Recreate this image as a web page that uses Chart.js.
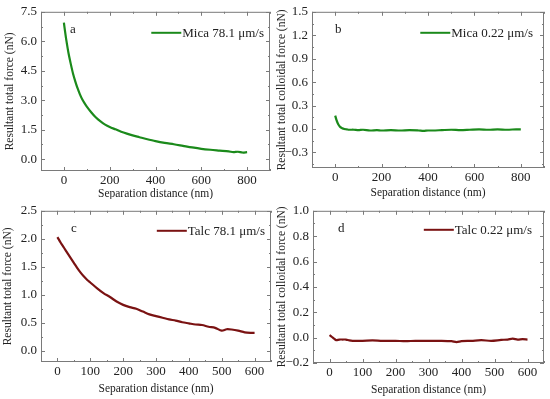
<!DOCTYPE html>
<html>
<head>
<meta charset="utf-8">
<script src="https://cdn.jsdelivr.net/npm/chart.js@4.4.1/dist/chart.umd.min.js"></script>
<style>
  body { margin: 0; background: #fff; }
  #wrap { position: relative; width: 550px; height: 399px; }
  .panel { position: absolute; }
</style>
</head>
<body>
<div id="wrap">
  <div class="panel" style="left:0;top:0;width:275px;height:199px"><canvas id="chartA"></canvas></div>
  <div class="panel" style="left:275px;top:0;width:275px;height:199px"><canvas id="chartB"></canvas></div>
  <div class="panel" style="left:0;top:199px;width:275px;height:200px"><canvas id="chartC"></canvas></div>
  <div class="panel" style="left:275px;top:199px;width:275px;height:200px"><canvas id="chartD"></canvas></div>
</div>
<script>
// panel a - mica, high speed
let micaFastX = [0, 5, 10, 20, 30, 40, 50, 60, 70, 80, 90, 100, 120, 140, 160, 180, 200, 225, 250, 275, 300, 330, 360, 400, 440, 480, 520, 560, 600, 640, 680, 720, 740, 760, 780, 800];
let micaFastY = [6.95, 6.5, 6.1, 5.4, 4.85, 4.35, 3.95, 3.6, 3.3, 3.05, 2.85, 2.68, 2.38, 2.12, 1.92, 1.76, 1.64, 1.52, 1.4, 1.3, 1.21, 1.12, 1.03, 0.92, 0.83, 0.76, 0.68, 0.6, 0.53, 0.48, 0.44, 0.4, 0.36, 0.38, 0.34, 0.36];

// panel b - mica, low speed
let micaSlowX = [0, 5, 10, 15, 20, 30, 40, 50, 60, 80, 100, 120, 150, 180, 200, 240, 280, 320, 360, 380, 400, 420, 460, 500, 540, 580, 620, 660, 700, 740, 780, 800];
let micaSlowY = [0.17, 0.12, 0.08, 0.05, 0.03, 0.01, 0.0, -0.005, -0.01, -0.01, -0.015, -0.01, -0.02, -0.015, -0.02, -0.015, -0.02, -0.015, -0.02, -0.025, -0.02, -0.02, -0.015, -0.01, -0.015, -0.01, -0.005, -0.01, -0.005, -0.01, -0.005, -0.005];

// panel c - talc, high speed
let talcFastX = [0, 10, 20, 30, 40, 50, 60, 70, 80, 90, 100, 120, 140, 160, 180, 200, 220, 240, 260, 280, 300, 320, 340, 360, 380, 400, 420, 440, 460, 480, 500, 515, 530, 550, 570, 590, 600];
let talcFastY = [2.03, 1.93, 1.84, 1.75, 1.66, 1.57, 1.48, 1.4, 1.33, 1.27, 1.22, 1.12, 1.03, 0.96, 0.88, 0.82, 0.78, 0.75, 0.7, 0.65, 0.62, 0.59, 0.56, 0.54, 0.51, 0.49, 0.47, 0.46, 0.43, 0.41, 0.36, 0.385, 0.38, 0.36, 0.33, 0.32, 0.32];

// panel d - talc, low speed
let talcSlowX = [0, 5, 10, 15, 20, 30, 40, 50, 60, 70, 100, 130, 160, 200, 230, 260, 300, 340, 370, 385, 400, 430, 460, 490, 520, 540, 555, 570, 585, 600];
let talcSlowY = [0.02, 0.01, 0.0, -0.01, -0.02, -0.015, -0.015, -0.015, -0.022, -0.025, -0.025, -0.022, -0.025, -0.025, -0.028, -0.025, -0.025, -0.025, -0.028, -0.035, -0.028, -0.025, -0.02, -0.025, -0.018, -0.015, -0.008, -0.015, -0.012, -0.015];

// tick labels
let xTicks800 = [0, 200, 400, 600, 800];
let xTicks600 = [0, 100, 200, 300, 400, 500, 600];
let yTicksA = [0, 1.5, 3, 4.5, 6, 7.5];
let yTicksB = [-0.3, 0, 0.3, 0.6, 0.9, 1.2, 1.5];
let yTicksC = [0, 0.5, 1, 1.5, 2, 2.5];
let yTicksD = [-0.2, 0, 0.2, 0.4, 0.6, 0.8, 1];

const GREEN = "#1b8a1b";
const DARKRED = "#7a1212";
const SERIF = "'Liberation Serif', 'Times New Roman', serif";

function fmt(v, dec) {
    let s = Math.abs(v).toFixed(dec);
    return v < -1e-9 ? "\u2212" + s : s;
}

// frame, inward ticks (major + minor), panel letter and legend
const framePlugin = {
    id: "frame",
    afterDatasetsDraw(chart, args, opts) {
        const ctx = chart.ctx;
        const a = chart.chartArea;
        const xs = chart.scales.x, ys = chart.scales.y;
        ctx.save();
        ctx.strokeStyle = "#7a7a7a";
        ctx.lineWidth = 1;
        ctx.strokeRect(a.left + 0.5, a.top + 0.5, a.right - a.left - 1, a.bottom - a.top - 1);

        function tickSet(scale, major) {
            let step = major[1] - major[0];
            let out = [];
            for (let v = major[0] - step; v <= major[major.length - 1] + step; v += step / 2) {
                let r = Math.round(v * 1000) / 1000;
                if (r >= scale.min - 1e-9 && r <= scale.max + 1e-9) {
                    let isMajor = major.some(m => Math.abs(m - r) < 1e-6);
                    out.push({ v: r, major: isMajor });
                }
            }
            return out;
        }
        ctx.beginPath();
        tickSet(xs, opts.xMajor).forEach(t => {
            let px = Math.round(xs.getPixelForValue(t.v)) + 0.5;
            let len = t.major ? 4 : 2;
            ctx.moveTo(px, a.bottom);
            ctx.lineTo(px, a.bottom - len);
            ctx.moveTo(px, a.top);
            ctx.lineTo(px, a.top + len);
        });
        tickSet(ys, opts.yMajor).forEach(t => {
            let py = Math.round(ys.getPixelForValue(t.v)) + 0.5;
            let len = t.major ? 4 : 2;
            ctx.moveTo(a.left, py);
            ctx.lineTo(a.left + len, py);
            ctx.moveTo(a.right, py);
            ctx.lineTo(a.right - len, py);
        });
        ctx.stroke();

        // panel letter
        ctx.fillStyle = "#222";
        ctx.font = "13px " + SERIF;
        ctx.textBaseline = "alphabetic";
        ctx.textAlign = "left";
        ctx.fillText(opts.letter, a.left + opts.letterDx, a.top + 21);

        // legend
        const ds = chart.data.datasets[0];
        ctx.font = "13px " + SERIF;
        let tw = ctx.measureText(ds.label).width;
        let tx = a.right - opts.legendRight - tw;
        let ly = a.top + opts.legendDy;
        ctx.fillText(ds.label, tx, ly + 4.5);
        ctx.strokeStyle = ds.borderColor;
        ctx.lineWidth = 2;
        ctx.beginPath();
        ctx.moveTo(tx - 31, ly);
        ctx.lineTo(tx - 1, ly);
        ctx.stroke();
        ctx.restore();
    }
};

function makePanel(id, cfg) {
    const points = cfg.xs.map((x, i) => ({ x: x, y: cfg.ys[i] }));
    return new Chart(document.getElementById(id), {
        type: "line",
        data: {
            datasets: [{
                label: cfg.label,
                data: points,
                borderColor: cfg.color,
                borderWidth: 2.2,
                pointRadius: 0,
                tension: 0.3,
                fill: false
            }]
        },
        options: {
            responsive: true,
            maintainAspectRatio: false,
            animation: false,
            layout: { padding: { top: cfg.pad.top, right: cfg.pad.right, left: 0, bottom: 0 } },
            plugins: {
                legend: { display: false },
                tooltip: { enabled: false },
                frame: {
                    xMajor: cfg.xTicks, yMajor: cfg.yTicks, letter: cfg.letter,
                    letterDx: cfg.letterDx, legendRight: cfg.legendRight, legendDy: cfg.legendDy
                }
            },
            scales: {
                x: {
                    type: "linear",
                    min: cfg.xMin, max: cfg.xMax,
                    grid: { display: false, drawTicks: false },
                    border: { display: false },
                    afterBuildTicks: (s) => { s.ticks = cfg.xTicks.map(v => ({ value: v })); },
                    afterFit: (s) => { s.height = cfg.xAxisH; },
                    ticks: {
                        padding: 1.5, color: "#222", maxRotation: 0, autoSkip: false,
                        font: { family: SERIF, size: 13 },
                        callback: (v) => String(v)
                    },
                    title: {
                        display: true, text: "Separation distance (nm)", color: "#222",
                        font: { family: SERIF, size: 11.5 },
                        padding: { top: 0, bottom: cfg.xTitlePad }
                    }
                },
                y: {
                    min: cfg.yMin, max: cfg.yMax,
                    grid: { display: false, drawTicks: false },
                    border: { display: false },
                    afterBuildTicks: (s) => { s.ticks = cfg.yTicks.map(v => ({ value: v })); },
                    afterFit: (s) => { s.width = cfg.yAxisW; },
                    ticks: {
                        padding: 4, color: "#222", autoSkip: false,
                        font: { family: SERIF, size: 13 },
                        callback: (v) => fmt(v, 1)
                    },
                    title: {
                        display: true, text: cfg.yTitle, color: "#222",
                        font: { family: SERIF, size: 11.5 },
                        padding: { top: cfg.yTitlePad, bottom: 0 }
                    }
                }
            }
        },
        plugins: [framePlugin]
    });
}

makePanel("chartA", {
    xs: micaFastX, ys: micaFastY, label: "Mica 78.1 \u03bcm/s", color: GREEN,
    xMin: -100, xMax: 900, yMin: -0.6, yMax: 7.5, xTicks: xTicks800, yTicks: yTicksA,
    yTitle: "Resultant total force (nN)", letter: "a", letterDx: 29,
    pad: { top: 10, right: 5 }, yAxisW: 41, xAxisH: 28, xTitlePad: -1.5, yTitlePad: 3,
    legendRight: 6, legendDy: 21
});
makePanel("chartB", {
    xs: micaSlowX, ys: micaSlowY, label: "Mica 0.22 \u03bcm/s", color: GREEN,
    xMin: -100, xMax: 900, yMin: -0.5, yMax: 1.5, xTicks: xTicks800, yTicks: yTicksB,
    yTitle: "Resultant total colloidal force (nN)", letter: "b", letterDx: 23,
    pad: { top: 10, right: 6 }, yAxisW: 37, xAxisH: 31, xTitlePad: -1, yTitlePad: 0.5,
    legendRight: 11, legendDy: 21
});
makePanel("chartC", {
    xs: talcFastX, ys: talcFastY, label: "Talc 78.1 \u03bcm/s", color: DARKRED,
    xMin: -50, xMax: 650, yMin: -0.2, yMax: 2.5, xTicks: xTicks600, yTicks: yTicksC,
    yTitle: "Resultant total force (nN)", letter: "c", letterDx: 30,
    pad: { top: 5, right: 4 }, yAxisW: 41, xAxisH: 37, xTitlePad: 3, yTitlePad: 1.5,
    legendRight: 6, legendDy: 20
});
makePanel("chartD", {
    xs: talcSlowX, ys: talcSlowY, label: "Talc 0.22 \u03bcm/s", color: DARKRED,
    xMin: -50, xMax: 650, yMin: -0.2, yMax: 1.0, xTicks: xTicks600, yTicks: yTicksD,
    yTitle: "Resultant total colloidal force (nN)", letter: "d", letterDx: 25,
    pad: { top: 6, right: 6 }, yAxisW: 38, xAxisH: 36, xTitlePad: 2, yTitlePad: 0.5,
    legendRight: 12, legendDy: 19
});
</script>
</body>
</html>
